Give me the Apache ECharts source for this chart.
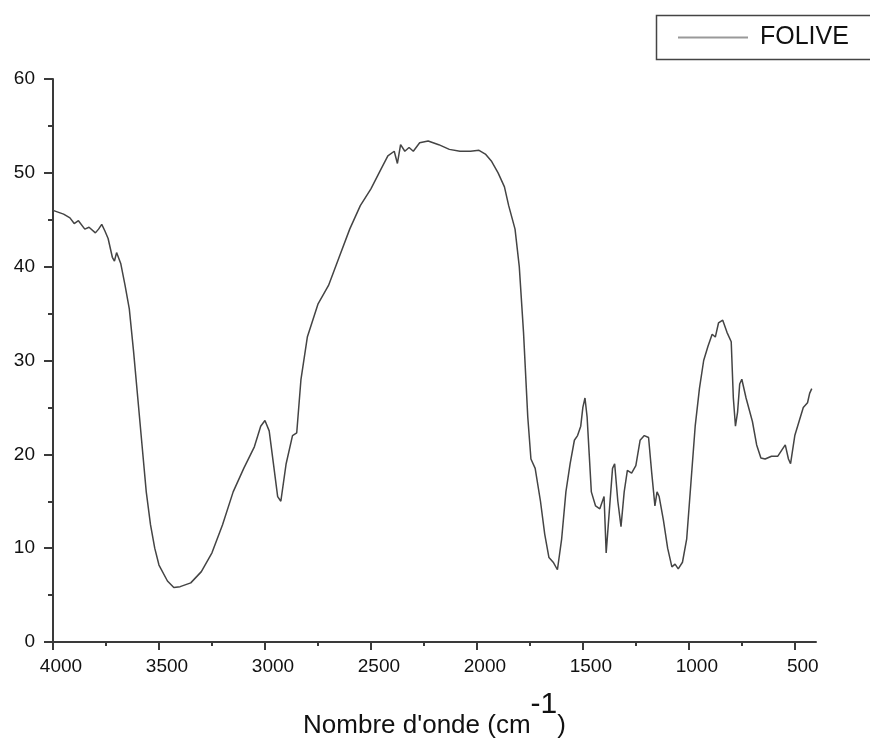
<!DOCTYPE html>
<html>
<head>
<meta charset="utf-8">
<script src="https://cdn.jsdelivr.net/npm/echarts@6/dist/echarts.min.js"></script>
<style>
  html, body { margin: 0; padding: 0; background: #fff; }
  #chart { width: 870px; height: 742px; }
</style>
</head>
<body>
<div id="chart"></div>
<script>
// FTIR spectrum
const wavenumbers = [
  4000, 3950, 3920, 3900, 3880, 3850, 3830, 3800, 3785, 3770, 3755, 3740, 3720, 3710, 3700, 3680,
  3660, 3640, 3620, 3600, 3580, 3560, 3540, 3520, 3500, 3460, 3430, 3400, 3350, 3300,
  3250, 3200, 3150, 3100, 3050, 3020, 3000, 2980, 2960, 2940, 2925, 2900, 2870, 2850,
  2830, 2800, 2750, 2700, 2650, 2600, 2550, 2500, 2450, 2420, 2390, 2375, 2360, 2340,
  2320, 2300, 2270, 2230, 2180, 2130, 2080, 2030, 1990, 1960, 1930, 1900, 1870, 1850,
  1820, 1800, 1780, 1760, 1745, 1725, 1700, 1680, 1660, 1640, 1620, 1600, 1580, 1560,
  1540, 1525, 1510, 1500, 1490, 1480, 1470, 1460, 1440, 1420, 1400, 1390, 1375, 1360,
  1350, 1335, 1320, 1305, 1290, 1270, 1250, 1230, 1210, 1190, 1175, 1160, 1150, 1140,
  1120, 1100, 1080, 1065, 1050, 1030, 1010, 990, 970, 950, 930, 910, 890, 875,
  860, 840, 820, 800, 790, 780, 770, 760, 750, 730, 700, 680, 660, 640,
  610, 580, 560, 545, 530, 520, 500, 480, 460, 440, 430, 420
];
const transmittance = [
  46.0, 45.6, 45.2, 44.6, 44.9, 44.0, 44.2, 43.6, 44.0, 44.5, 43.8, 43.0, 41.0, 40.6, 41.5, 40.3,
  38.0, 35.5, 31.0, 26.0, 21.0, 16.0, 12.5, 10.0, 8.2, 6.5, 5.8, 5.9, 6.3, 7.5,
  9.5, 12.5, 16.0, 18.5, 20.8, 23.0, 23.6, 22.5, 19.0, 15.5, 15.0, 19.0, 22.0, 22.3,
  28.0, 32.5, 36.0, 38.0, 41.0, 44.0, 46.5, 48.3, 50.5, 51.8, 52.3, 51.0, 53.0, 52.3,
  52.7, 52.3, 53.2, 53.4, 53.0, 52.5, 52.3, 52.3, 52.4, 52.0, 51.2, 50.0, 48.5, 46.5,
  44.0, 40.0, 33.0, 24.0, 19.5, 18.5, 15.0, 11.5, 9.0, 8.5, 7.7, 11.0, 16.0, 19.0,
  21.5, 22.0, 23.0, 25.0, 26.0, 24.0, 20.0, 16.0, 14.5, 14.2, 15.5, 9.5, 14.0, 18.5,
  19.0, 15.0, 12.3, 16.0, 18.3, 18.0, 18.8, 21.5, 22.0, 21.8, 18.0, 14.5, 16.0, 15.5,
  13.0, 10.0, 8.0, 8.3, 7.8, 8.5, 11.0, 17.0, 23.0, 27.0, 30.0, 31.5, 32.8, 32.5,
  34.0, 34.3, 33.0, 32.0, 26.0, 23.0, 24.5, 27.5, 28.0, 26.0, 23.5, 21.0, 19.6, 19.5,
  19.8, 19.8, 20.5, 21.0, 19.5, 19.0, 22.0, 23.5, 25.0, 25.5, 26.5, 27.0
];
const majorTicks = [4000, 3500, 3000, 2500, 2000, 1500, 1000, 500];
const minorTicks = [3750, 3250, 2750, 2250, 1750, 1250, 750];

const seriesData = wavenumbers.map((w, i) => [w, transmittance[i]]);

const chart = echarts.init(document.getElementById('chart'));
const font = 'Liberation Sans, Arial, sans-serif';
const axisColor = '#3a3a3a';

chart.setOption({
  backgroundColor: '#fff',
  animation: false,
  textStyle: { fontFamily: font },
  graphic: [
    // legend frame, runs past the right edge as in the reference
    { type: 'rect', shape: { x: 656.5, y: 15.5, width: 240, height: 44 }, style: { fill: 'none', stroke: '#444', lineWidth: 1.5 } }
  ],
  legend: {
    left: 678,
    top: 25,
    padding: 0,
    icon: 'rect',
    itemWidth: 70,
    itemHeight: 2,
    textStyle: { fontSize: 25, color: '#111', fontFamily: font, padding: [0, 0, 0, 7] },
    itemStyle: { color: '#999' },
    data: ['FOLIVE']
  },
  grid: { left: 53, right: 54, top: 79, bottom: 100, outerBoundsMode: 'none' },
  xAxis: [
    {
      type: 'value',
      inverse: true,
      min: 400,
      max: 4000,
      splitLine: { show: false },
      axisLine: { onZero: false, lineStyle: { color: axisColor, width: 2 } },
      axisTick: { customValues: majorTicks, length: 8, lineStyle: { color: axisColor, width: 2 } },
      axisLabel: {
        customValues: majorTicks, margin: 15, fontSize: 19, color: '#111', fontFamily: font,
        padding: [0, 0, 0, 16], formatter: v => String(v)
      },
      name: "Nombre d'onde (cm{sup|-1})",
      nameLocation: 'middle',
      nameGap: 48,
      nameTextStyle: {
        fontSize: 26,
        color: '#111',
        fontFamily: font,
        rich: { sup: { fontSize: 30, color: '#111', fontFamily: font, padding: [0, 0, 42, 0] } }
      }
    },
    {
      type: 'value',
      inverse: true,
      min: 400,
      max: 4000,
      position: 'bottom',
      splitLine: { show: false },
      axisLine: { show: false, onZero: false },
      axisTick: { customValues: minorTicks, length: 4, lineStyle: { color: axisColor, width: 2 } },
      axisLabel: { show: false }
    }
  ],
  yAxis: {
    type: 'value',
    min: 0,
    max: 60,
    interval: 10,
    splitLine: { show: false },
    axisLine: { show: true, lineStyle: { color: axisColor, width: 2 } },
    axisTick: { show: true, length: 9, lineStyle: { color: axisColor, width: 2 } },
    minorTick: { show: true, splitNumber: 2, length: 5, lineStyle: { color: axisColor, width: 2 } },
    axisLabel: { margin: 18, fontSize: 19, color: '#111', fontFamily: font }
  },
  series: [
    {
      name: 'FOLIVE',
      type: 'line',
      data: seriesData,
      symbol: 'none',
      lineStyle: { color: '#444', width: 1.5 }
    }
  ]
});
</script>
</body>
</html>
